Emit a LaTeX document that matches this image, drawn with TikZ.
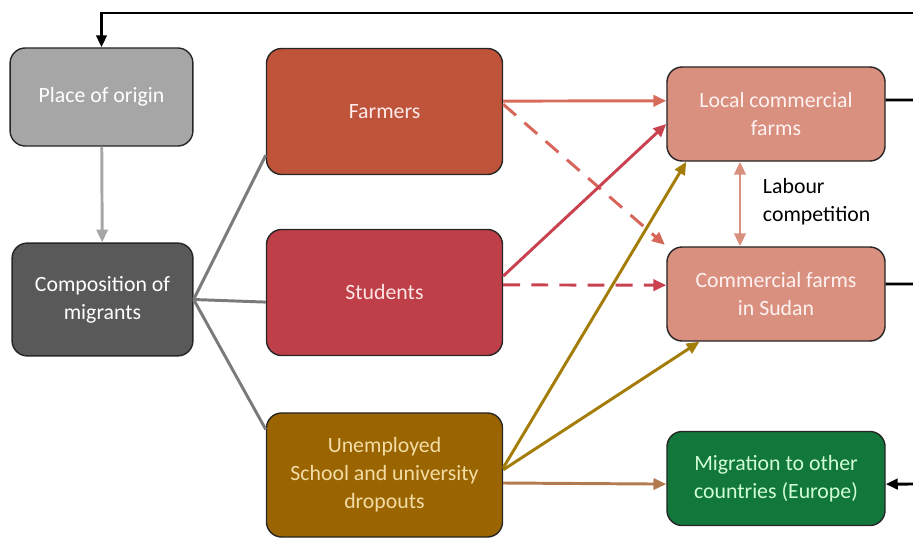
\documentclass[tikz,border=0pt]{standalone}
\usepackage{fontspec}
\setmainfont{Carlito}
\usetikzlibrary{arrows.meta}
\definecolor{origingray}{HTML}{A6A6A6}
\definecolor{compgray}{HTML}{595959}
\definecolor{linkgray}{HTML}{7A7A7A}
\definecolor{farmred}{HTML}{C0543A}
\definecolor{studred}{HTML}{BF3F48}
\definecolor{jobbrown}{HTML}{9A6500}
\definecolor{jobtext}{HTML}{F3DCA6}
\definecolor{farmpink}{HTML}{D9907F}
\definecolor{eurogreen}{HTML}{11773A}
\definecolor{farmline}{HTML}{D86C5C}
\definecolor{studline}{HTML}{C8424F}
\definecolor{jobline}{HTML}{A47D08}
\definecolor{euroline}{HTML}{B27A4E}

\begin{document}
\begin{tikzpicture}[x=0.025cm, y=-0.025cm,
    box/.style = {draw=black!85, line width=1pt, rounded corners=0.38cm,
                  align=center, text=white, font=\fontsize{15.5}{20}\selectfont},
    side/.style = {box, minimum width=5.45cm, minimum height=2.35cm},
    group/.style = {box, minimum width=5.9cm, minimum height=3.15cm},
    farm/.style = {box, fill=farmpink, minimum width=5.45cm, minimum height=2.35cm, text=white!95!red},
    link/.style = {line width=2.1pt, color=linkgray},
    flow/.style = {line width=2.1pt, -{Triangle[length=3.2mm,width=2.8mm]}},
    loop/.style = {line width=2.1pt, black}]
	\useasboundingbox (0,0) rectangle (913,538);

	% left column
	\node[box, fill=origingray, minimum width=4.57cm, minimum height=2.45cm] (origin) at (101.5,97) {Place of origin};
	\node[box, fill=compgray, minimum width=4.52cm, minimum height=2.82cm] (comp) at (102.5,299.5) {Composition of\\migrants};

	% migrant groups
	\node[group, fill=farmred, text=white!92!red] (farmers) at (384.5,111.5) {Farmers};
	\node[group, fill=studred, text=white!90!red] (students) at (384.5,292.5) {Students};
	\node[group, fill=jobbrown, text=jobtext, minimum height=3.1cm] (jobless) at (384.5,475)
		{Unemployed\\School and university\\dropouts};

	% destinations
	\node[farm] (local) at (776,114) {Local commercial\\farms};
	\node[farm] (sudan) at (776,294) {Commercial farms\\in Sudan};
	\node[side, fill=eurogreen, text=green!18!white] (europe) at (776,478.5) {Migration to other\\countries (Europe)};
	\node[anchor=west, align=left, font=\fontsize{15.5}{20}\selectfont] (labour) at (758,202) {Labour\\competition};

	% return loop along the edge
	\coordinate (r1) at (913,100);
	\coordinate (r2) at (913,284);
	\coordinate (r3) at (913,484);
	\coordinate (top) at (913,13);
	\coordinate (turn) at (101.5,13);

	\draw[flow, origingray] (origin) -- (comp);
	\draw[link] (comp.east) -- ([yshift=0.5cm]farmers.south west);
	\draw[link] (comp.east) -- ([yshift=-0.24cm]students.west);
	\draw[link] (comp.east) -- ([yshift=-0.43cm]jobless.north west);

	\draw[flow, farmline] ([yshift=0.26cm]farmers.east) -- ([yshift=0.33cm]local.west);
	\draw[flow, farmline!85!studline, dashed, dash pattern=on 12pt off 8pt] ([yshift=0.18cm]farmers.east) -- ([xshift=-1pt,yshift=1pt]sudan.north west);
	\draw[flow, studline] ([yshift=0.41cm]students.east) -- ([yshift=-0.25cm]local.west);
	\draw[flow, studline, dashed, dash pattern=on 12pt off 8pt] ([yshift=0.19cm]students.east) -- ([yshift=0.22cm]sudan.west);
	\draw[flow, jobline] ([yshift=0.18cm]jobless.east) -- ([xshift=0.5cm]local.south west);
	\draw[flow, jobline] ([yshift=0.13cm]jobless.east) -- ([xshift=0.83cm]sudan.south west);
	\draw[flow, euroline] ([yshift=-0.2cm]jobless.east) -- ([yshift=-0.14cm]europe.west);

	\draw[line width=2.1pt, farmpink, {Triangle[length=3.2mm,width=2.8mm]}-{Triangle[length=3.2mm,width=2.8mm]}]
		([xshift=-0.9cm]local.south) -- ([xshift=-0.9cm]sudan.north);

	\draw[loop] ([yshift=0.35cm]local.east) -- (r1);
	\draw[loop] ([yshift=0.25cm]sudan.east) -- (r2);
	\draw[loop, -{Triangle[length=3mm,width=2.6mm]}] (r3) -- ([yshift=-0.14cm]europe.east);
	\draw[loop, -{Triangle[length=3mm,width=2.6mm]}] (top) -- (turn) -- (origin.north);
\end{tikzpicture}
\end{document}
